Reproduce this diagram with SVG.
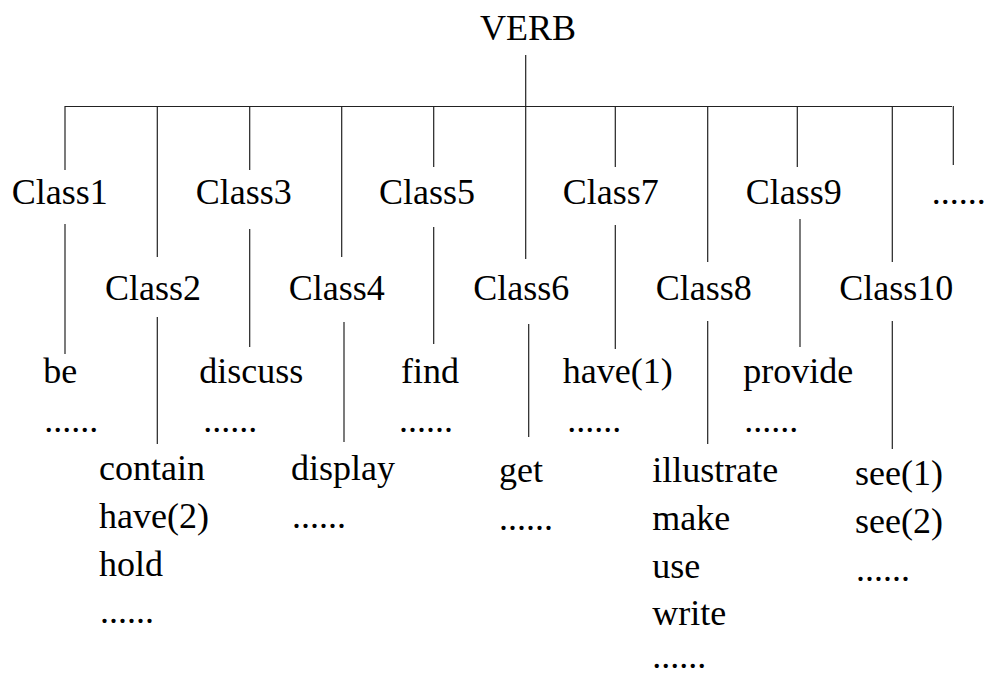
<svg xmlns="http://www.w3.org/2000/svg" width="986" height="677" viewBox="0 0 986 677">
  <style>
    text { font-family: "Liberation Serif", "Times New Roman", serif; font-size: 36px; fill: #000; }
    .ln { stroke: #222; stroke-width: 1.2; fill: none; }
  </style>
  <rect width="986" height="677" fill="#fff"/>

  <!-- connectors: root bar and per-class drops -->
  <g id="connectors">
    <line class="ln" x1="65" y1="106.5" x2="952" y2="106.5"/>
    <line class="ln" x1="525.7" y1="55" x2="525.7" y2="259"/>
    <!-- upper drops to class labels -->
    <line class="ln" x1="65" y1="106" x2="65" y2="170"/>
    <line class="ln" x1="157.3" y1="106" x2="157.3" y2="257"/>
    <line class="ln" x1="249.7" y1="106" x2="249.7" y2="170"/>
    <line class="ln" x1="341.7" y1="106" x2="341.7" y2="257"/>
    <line class="ln" x1="433.7" y1="106" x2="433.7" y2="167"/>
    <line class="ln" x1="615.3" y1="106" x2="615.3" y2="167"/>
    <line class="ln" x1="707.7" y1="106" x2="707.7" y2="262"/>
    <line class="ln" x1="797.3" y1="106" x2="797.3" y2="167"/>
    <line class="ln" x1="892.3" y1="106" x2="892.3" y2="262"/>
    <line class="ln" x1="953.3" y1="106" x2="953.3" y2="165"/>
    <!-- lower drops to verb lists -->
    <line class="ln" x1="65" y1="224" x2="65" y2="354"/>
    <line class="ln" x1="157.3" y1="317" x2="157.3" y2="444"/>
    <line class="ln" x1="249.7" y1="229" x2="249.7" y2="347"/>
    <line class="ln" x1="344" y1="322" x2="344" y2="442"/>
    <line class="ln" x1="433.7" y1="227" x2="433.7" y2="344"/>
    <line class="ln" x1="528.7" y1="324" x2="528.7" y2="437"/>
    <line class="ln" x1="615.3" y1="225" x2="615.3" y2="349"/>
    <line class="ln" x1="707.7" y1="321" x2="707.7" y2="444"/>
    <line class="ln" x1="800" y1="219" x2="800" y2="347"/>
    <line class="ln" x1="892.3" y1="321" x2="892.3" y2="449"/>
  </g>

  <g id="verb"><text x="480" y="40">VERB</text></g>

  <g id="class1">
    <text x="11.7" y="204">Class1</text>
    <text x="43.3" y="383">be</text>
    <text x="44.3" y="432">......</text>
  </g>
  <g id="class2">
    <text x="105" y="300">Class2</text>
    <text x="99" y="480">contain</text>
    <text x="99" y="528">have(2)</text>
    <text x="99" y="576">hold</text>
    <text x="100" y="623">......</text>
  </g>
  <g id="class3">
    <text x="195.7" y="204">Class3</text>
    <text x="199.3" y="383">discuss</text>
    <text x="203.3" y="432">......</text>
  </g>
  <g id="class4">
    <text x="288.7" y="300">Class4</text>
    <text x="291" y="480">display</text>
    <text x="292" y="528">......</text>
  </g>
  <g id="class5">
    <text x="379" y="204">Class5</text>
    <text x="401" y="383">find</text>
    <text x="399" y="432">......</text>
  </g>
  <g id="class6">
    <text x="473.3" y="300">Class6</text>
    <text x="499" y="482">get</text>
    <text x="499" y="530">......</text>
  </g>
  <g id="class7">
    <text x="562.7" y="204">Class7</text>
    <text x="562.7" y="383">have(1)</text>
    <text x="567.3" y="432">......</text>
  </g>
  <g id="class8">
    <text x="655.7" y="300">Class8</text>
    <text x="652.3" y="482">illustrate</text>
    <text x="652.3" y="530">make</text>
    <text x="652.3" y="578">use</text>
    <text x="652.3" y="625">write</text>
    <text x="652.3" y="668">......</text>
  </g>
  <g id="class9">
    <text x="745.7" y="204">Class9</text>
    <text x="743.3" y="383">provide</text>
    <text x="744.3" y="432">......</text>
  </g>
  <g id="class10">
    <text x="839.3" y="300">Class10</text>
    <text x="855" y="485">see(1)</text>
    <text x="855" y="533">see(2)</text>
    <text x="856" y="581">......</text>
  </g>
  <g id="more"><text x="931.7" y="204">......</text></g>
</svg>
